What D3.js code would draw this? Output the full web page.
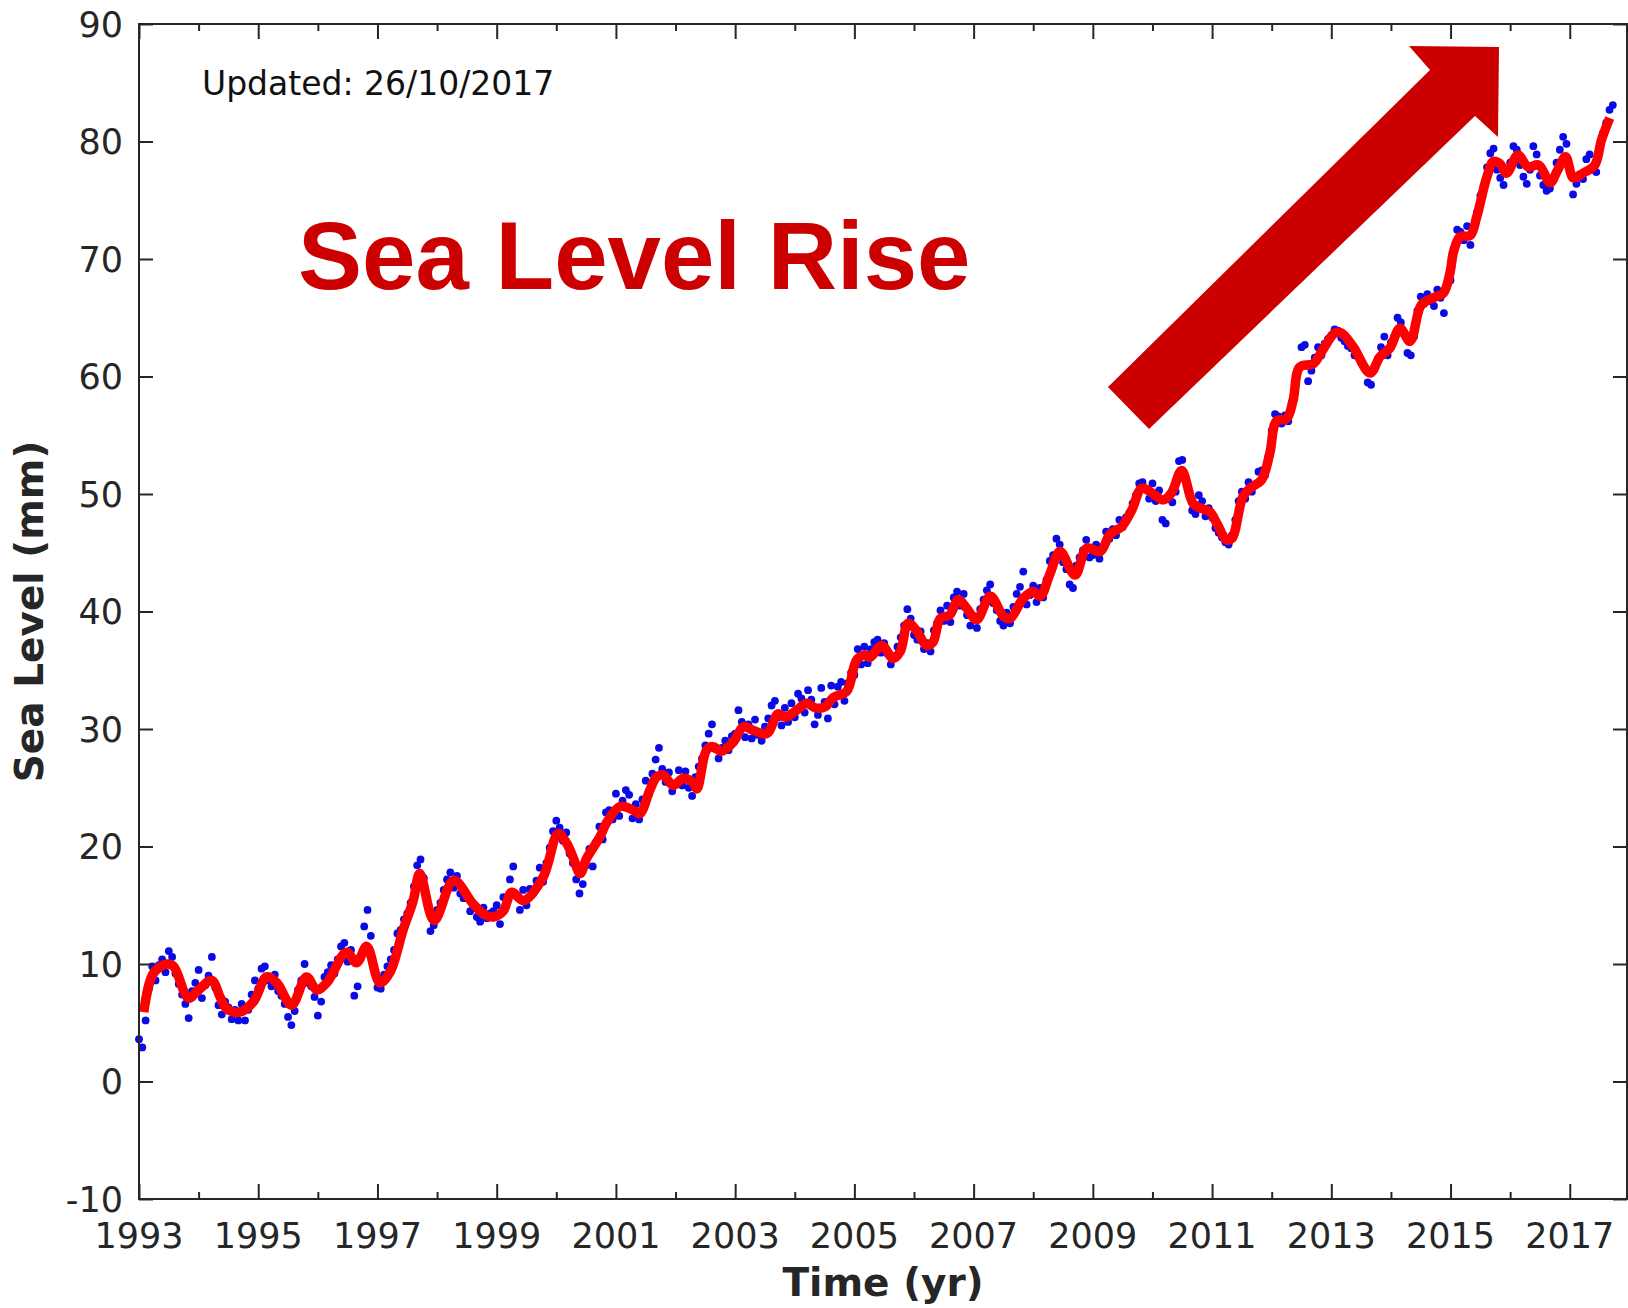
<!DOCTYPE html>
<html>
<head>
<meta charset="UTF-8">
<title>Sea Level Rise</title>
<script src="https://d3js.org/d3.v7.min.js"></script>
<style>
  body { margin: 0; background: #fff; }
  svg text { font-family: "DejaVu Sans", sans-serif; }
</style>
</head>
<body>
<div id="chart"></div>
<script>
// axis ticks
const xMajorTicks = d3.range(1993, 2018, 2);
const xMinorTicks = d3.range(1994, 2018, 2);
const yTicks = d3.range(-10, 91, 10);

// 2-month filtered mean sea level (year, mm)
const smoothSeries = [
  [1993.08, 5.9], [1993.24, 9.2], [1993.46, 10.0], [1993.58, 9.8], [1993.83, 7.1],
  [1994.00, 7.8], [1994.22, 8.6], [1994.36, 7.2], [1994.47, 6.2], [1994.69, 5.9], [1994.92, 6.8],
  [1995.14, 8.9], [1995.31, 8.4], [1995.56, 6.5], [1995.81, 8.9], [1995.98, 7.8],
  [1996.15, 8.4], [1996.48, 11.0], [1996.65, 10.1], [1996.82, 11.5],
  [1997.04, 8.4], [1997.21, 9.3], [1997.43, 12.9], [1997.60, 15.4], [1997.71, 17.7], [1997.95, 13.7],
  [1998.28, 17.1], [1998.59, 15.2], [1998.77, 14.3], [1998.94, 14.0],
  [1999.11, 14.5], [1999.25, 16.1], [1999.45, 15.4], [1999.78, 17.4],
  [2000.03, 21.1], [2000.17, 20.3], [2000.28, 19.1], [2000.40, 17.7], [2000.51, 19.0], [2000.73, 20.8], [2000.84, 22.0],
  [2001.07, 23.4], [2001.29, 23.1], [2001.40, 22.8], [2001.57, 24.8], [2001.68, 25.9], [2001.79, 26.1], [2001.96, 25.2],
  [2002.13, 25.8], [2002.30, 25.4], [2002.36, 24.9], [2002.52, 28.2], [2002.63, 28.5], [2002.77, 28.1], [2002.97, 28.9],
  [2003.14, 30.2], [2003.30, 29.9], [2003.53, 29.6], [2003.72, 31.3], [2003.84, 31.0],
  [2004.03, 31.6], [2004.20, 32.2], [2004.34, 31.8], [2004.51, 31.9], [2004.65, 32.7], [2004.87, 33.2],
  [2005.04, 35.9], [2005.18, 36.3], [2005.26, 36.1], [2005.46, 37.1], [2005.65, 36.0], [2005.77, 36.6], [2005.90, 39.0],
  [2006.04, 38.4], [2006.21, 37.1], [2006.32, 37.4], [2006.44, 39.4], [2006.60, 39.7], [2006.74, 41.0], [2006.88, 40.3],
  [2007.05, 39.3], [2007.28, 41.3], [2007.50, 39.6], [2007.61, 39.4], [2007.83, 41.1],
  [2008.00, 41.7], [2008.12, 41.3], [2008.28, 43.2], [2008.45, 45.1], [2008.70, 43.1], [2008.90, 45.4],
  [2009.12, 45.1], [2009.29, 46.6], [2009.48, 47.2], [2009.65, 48.6], [2009.82, 50.5], [2009.96, 50.2],
  [2010.18, 49.5], [2010.32, 50.1], [2010.49, 52.0], [2010.68, 49.2], [2010.80, 48.8], [2010.96, 48.5],
  [2011.08, 47.5], [2011.24, 46.1], [2011.33, 46.2], [2011.52, 49.8], [2011.64, 50.5], [2011.83, 51.2], [2011.97, 53.5],
  [2012.08, 56.2], [2012.25, 56.4], [2012.36, 58.0], [2012.47, 60.8], [2012.70, 61.1], [2012.86, 62.3],
  [2013.06, 63.7], [2013.17, 63.7], [2013.37, 62.5], [2013.65, 60.3], [2013.82, 61.7], [2013.98, 62.4],
  [2014.15, 64.1], [2014.32, 63.0], [2014.51, 66.1], [2014.71, 66.7], [2014.88, 67.1], [2014.99, 68.8],
  [2015.05, 70.6], [2015.16, 71.9], [2015.33, 72.0], [2015.44, 73.6], [2015.61, 77.0], [2015.72, 78.3], [2015.83, 78.1], [2015.94, 77.3],
  [2016.13, 78.85], [2016.30, 77.85], [2016.48, 78.0], [2016.67, 76.5], [2016.80, 77.6], [2016.93, 78.7],
  [2017.06, 76.9], [2017.22, 77.3], [2017.42, 78.0], [2017.53, 80.1], [2017.67, 82.0]
];

// raw altimetry samples (mm), one every 1/18 yr starting at 1993.0, one row per year
const rawStart = 1993;
const rawStep = 1 / 18;
const rawLevels = [
  3.6, 2.9, 5.2, 7.9, 9.8, 8.6, 9.9, 10.4, 9.3, 11.1, 10.6, 9.2, 8.3, 7.4, 6.6, 5.4, 7.7, 8.4,
  9.5, 7.1, 8.2, 9.0, 10.6, 8.0, 6.5, 5.7, 6.8, 6.3, 5.3, 6.1, 5.2, 6.6, 5.2, 6.1, 7.4, 8.6,
  7.9, 9.6, 9.8, 8.6, 8.1, 9.1, 7.7, 7.3, 6.6, 5.5, 4.8, 6.0, 7.8, 8.6, 10.0, 8.4, 8.1, 7.2,
  5.6, 6.8, 8.9, 9.3, 9.9, 9.2, 10.4, 11.5, 11.8, 10.2, 11.2, 7.3, 8.1, 10.5, 13.2, 14.6, 12.4, 9.4,
  8.0, 7.9, 9.1, 9.8, 10.4, 11.2, 12.6, 12.9, 13.8, 14.3, 15.2, 16.6, 18.4, 18.9, 17.3, 15.6, 12.8, 13.3,
  14.6, 15.2, 16.3, 17.2, 17.8, 16.5, 17.5, 16.0, 15.6, 15.9, 14.5, 14.9, 14.0, 13.6, 14.8, 13.9, 14.3, 14.5,
  15.0, 13.4, 15.7, 15.2, 17.2, 18.3, 15.8, 14.6, 16.3, 15.0, 16.4, 16.0, 17.1, 18.2, 17.0, 18.6, 19.9, 21.3,
  22.2, 21.6, 20.5, 21.2, 19.4, 18.6, 17.2, 16.0, 16.8, 18.4, 19.8, 18.3, 20.4, 21.7, 20.6, 22.9, 23.1, 22.3,
  24.5, 22.6, 23.9, 24.8, 24.4, 22.4, 23.6, 22.3, 24.0, 25.6, 24.5, 26.2, 27.4, 28.4, 26.6, 25.5, 26.3, 24.7,
  25.3, 26.5, 25.2, 26.4, 25.0, 24.3, 25.9, 26.8, 27.5, 28.6, 29.6, 30.4, 28.3, 27.5, 28.4, 29.0, 28.2, 29.4,
  29.6, 31.6, 30.6, 29.3, 30.4, 29.2, 30.8, 29.5, 29.0, 30.2, 30.9, 32.0, 32.4, 31.0, 30.3, 31.8, 30.6, 32.2,
  31.0, 33.0, 32.6, 31.4, 33.3, 32.5, 30.4, 31.2, 33.5, 32.3, 30.9, 33.7, 32.1, 33.6, 34.0, 32.4, 33.9, 34.8,
  34.6, 36.8, 35.5, 37.0, 35.6, 36.8, 37.4, 37.6, 36.5, 37.3, 36.4, 35.5, 36.2, 37.0, 37.8, 38.8, 40.2, 39.4,
  38.0, 37.6, 38.3, 36.8, 37.3, 36.6, 38.4, 39.0, 40.1, 39.2, 40.5, 39.1, 41.2, 41.7, 40.5, 41.5, 39.7, 38.8,
  39.6, 38.6, 40.2, 41.0, 41.8, 42.3, 40.7, 40.1, 39.2, 38.8, 39.9, 39.0, 40.4, 41.5, 42.1, 43.4, 40.6, 41.4,
  42.2, 40.8, 42.0, 41.2, 42.7, 44.3, 44.8, 46.2, 45.7, 44.2, 43.6, 42.3, 42.0, 43.9, 44.6, 45.2, 46.1, 44.6,
  44.8, 45.7, 44.5, 45.3, 46.8, 46.2, 47.0, 46.5, 47.8, 47.2, 48.0, 48.4, 49.2, 49.9, 50.9, 51.0, 50.4, 49.6,
  50.9, 49.4, 50.3, 47.8, 47.5, 49.6, 49.3, 50.2, 52.8, 52.9, 51.3, 50.0, 48.6, 48.3, 49.9, 49.4, 48.1, 48.8,
  48.0, 47.1, 46.7, 46.3, 45.9, 45.7, 46.5, 47.8, 49.4, 50.2, 49.6, 51.0, 50.2, 50.8, 51.9, 52.0, 51.6, 53.2,
  55.4, 56.8, 56.6, 56.0, 56.7, 56.2, 57.4, 59.3, 60.6, 62.5, 62.7, 59.6, 60.5, 61.6, 62.5, 61.8, 62.8, 63.2,
  63.5, 64.0, 63.9, 63.3, 63.0, 62.6, 62.4, 61.8, 61.7, 61.2, 60.8, 59.5, 59.3, 60.6, 61.5, 62.5, 63.4, 61.8,
  62.9, 63.4, 65.0, 64.6, 63.6, 62.0, 61.8, 63.4, 65.6, 66.8, 66.2, 67.0, 66.4, 66.0, 67.4, 66.7, 65.4, 67.8,
  68.2, 70.8, 72.5, 72.3, 71.6, 72.8, 71.2, 72.6, 74.0, 75.4, 76.2, 77.8, 79.0, 79.4, 77.6, 76.9, 76.3, 77.5,
  78.2, 79.6, 79.3, 78.0, 77.0, 76.4, 77.6, 79.6, 78.9, 77.1, 76.3, 75.8, 76.0, 76.8, 78.2, 79.3, 80.4, 79.8,
  77.5, 75.5, 76.4, 77.2, 76.8, 78.5, 78.9, 77.6, 77.4, 79.4, 80.7, 81.6, 82.7, 83.1
];

const width = 1628;
const height = 1308;
const plot = { left: 139, right: 1627, top: 24, bottom: 1199 };
const ink = "#262626";

const svg = d3.select("#chart").append("svg")
  .attr("width", width)
  .attr("height", height);

const x = d3.scaleLinear().domain([1993, 2017.96]).range([plot.left, plot.right]);
const y = d3.scaleLinear().domain([-10, 90]).range([plot.bottom, plot.top]);

// raw dots
svg.append("g")
  .selectAll("circle")
  .data(rawLevels)
  .enter()
  .append("circle")
  .attr("cx", (d, i) => x(rawStart + i * rawStep))
  .attr("cy", (d) => y(d))
  .attr("r", 3.9)
  .attr("fill", "#0a0ae6");

// filtered line
const line = d3.line()
  .x((d) => x(d[0]))
  .y((d) => y(d[1]))
  .curve(d3.curveCatmullRom.alpha(0.5));

svg.append("path")
  .datum(smoothSeries)
  .attr("d", line)
  .attr("fill", "none")
  .attr("stroke", "#ff0000")
  .attr("stroke-width", 9.5)
  .attr("stroke-linejoin", "round")
  .attr("stroke-linecap", "butt");

// axes, ticks inward on all four sides
const axes = svg.append("g").attr("stroke", ink).attr("stroke-width", 2);

function ticks(axis, len) {
  const g = svg.append("g");
  g.call(axis.tickSize(-len).tickFormat(""));
  g.select(".domain").remove();
  g.selectAll(".tick line").attr("stroke", ink).attr("stroke-width", 2);
  return g;
}

ticks(d3.axisBottom(x).tickValues(xMajorTicks), 15).attr("transform", `translate(0,${plot.bottom})`);
ticks(d3.axisBottom(x).tickValues(xMinorTicks), 7).attr("transform", `translate(0,${plot.bottom})`);
ticks(d3.axisTop(x).tickValues(xMajorTicks), 15).attr("transform", `translate(0,${plot.top})`);
ticks(d3.axisTop(x).tickValues(xMinorTicks), 7).attr("transform", `translate(0,${plot.top})`);
ticks(d3.axisLeft(y).tickValues(yTicks), 14).attr("transform", `translate(${plot.left},0)`);
ticks(d3.axisRight(y).tickValues(yTicks), 14).attr("transform", `translate(${plot.right},0)`);

axes.append("rect")
  .attr("x", plot.left)
  .attr("y", plot.top)
  .attr("width", plot.right - plot.left)
  .attr("height", plot.bottom - plot.top)
  .attr("fill", "none");

// tick labels
svg.append("g")
  .selectAll("text")
  .data(xMajorTicks)
  .enter()
  .append("text")
  .attr("x", (d) => x(d))
  .attr("y", 1248)
  .attr("text-anchor", "middle")
  .attr("font-size", 35)
  .attr("fill", ink)
  .text((d) => d);

svg.append("g")
  .selectAll("text")
  .data(yTicks)
  .enter()
  .append("text")
  .attr("x", 123)
  .attr("y", (d) => y(d) + 12.8)
  .attr("text-anchor", "end")
  .attr("font-size", 35)
  .attr("fill", ink)
  .text((d) => d);

// axis titles
svg.append("text")
  .attr("x", (plot.left + plot.right) / 2)
  .attr("y", 1296)
  .attr("text-anchor", "middle")
  .attr("font-size", 39)
  .attr("font-weight", "bold")
  .attr("fill", ink)
  .text("Time (yr)");

svg.append("text")
  .attr("transform", `translate(43,${(plot.top + plot.bottom) / 2}) rotate(-90)`)
  .attr("text-anchor", "middle")
  .attr("font-size", 39)
  .attr("font-weight", "bold")
  .attr("fill", ink)
  .text("Sea Level (mm)");

// annotations
svg.append("text")
  .attr("x", 202)
  .attr("y", 95)
  .attr("font-size", 33)
  .attr("fill", "#111")
  .text("Updated: 26/10/2017");

svg.append("text")
  .attr("x", 298)
  .attr("y", 289)
  .style("font-family", "'Liberation Sans', Arial, sans-serif")
  .attr("font-size", 96)
  .attr("font-weight", "bold")
  .attr("fill", "#cc0000")
  .text("Sea Level Rise");

const arrow = [[1108, 387], [1149, 429], [1475, 116], [1498, 137], [1499, 47], [1409, 46], [1430, 70]];
svg.append("polygon")
  .attr("points", arrow.map((p) => p.join(",")).join(" "))
  .attr("fill", "#cc0000");
</script>
</body>
</html>
